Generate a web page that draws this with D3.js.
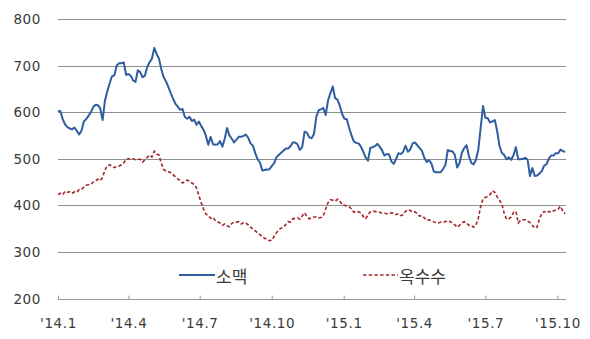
<!DOCTYPE html>
<html>
<head>
<meta charset="utf-8">
<script src="https://cdn.jsdelivr.net/npm/d3@7"></script>
<style>
  html, body { margin: 0; padding: 0; background: #fff; }
  svg { display: block; }
  .num { font-family: "DejaVu Sans", "Noto Sans", sans-serif; font-size: 13.5px; letter-spacing: 0.6px; fill: #3a3a3a; }
  .leg { font-family: "Noto Sans CJK KR", sans-serif; font-size: 17px; fill: #3a3a3a; }
</style>
</head>
<body>
<svg id="chart" width="590" height="339"></svg>
<script>
// Prices sampled every 3 calendar days starting 2014-01-01
const startDate = "2014-01-01";
const stepDays = 3;

const wheat = [
  603,602,585,574,568,565,563,567,560,552,560,580,585,592,600,611,616,615,608,583,
  625,645,662,677,679,700,705,705,707,680,682,678,668,665,690,686,675,678,697,707,
  715,738,725,715,692,675,666,654,641,629,618,612,605,607,590,586,590,581,584,573,
  580,570,562,549,530,547,531,530,531,538,526,543,566,550,543,535,541,547,547,549,
  552,545,533,528,512,499,492,475,476,477,477,484,490,503,508,513,517,522,522,527,
  535,535,531,519,525,558,556,546,544,553,590,604,606,609,594,625,641,655,630,627,
  614,596,586,585,566,550,537,534,533,526,515,503,496,523,525,527,532,526,518,507,
  510,509,494,489,500,512,510,515,528,515,520,533,535,529,523,517,502,493,497,490,
  473,471,471,471,478,487,519,516,516,508,481,491,513,523,529,506,491,488,498,520,
  567,613,588,587,578,580,583,560,528,513,508,499,503,498,508,525,499,499,500,502,
  498,463,480,463,464,468,473,485,488,500,507,507,512,512,520,516,515
];

const corn = [
  423,426,423,430,428,429,426,429,428,434,434,439,443,444,445,450,453,456,453,460,
  476,485,487,484,481,483,484,487,491,499,500,500,500,498,499,499,493,498,503,508,
  504,516,510,508,490,477,473,472,470,466,461,457,453,448,451,454,452,448,445,437,
  421,405,392,381,378,372,374,367,364,362,357,360,356,354,361,364,364,365,360,363,
  362,358,353,349,345,341,337,333,329,328,324,325,333,341,347,351,353,359,365,364,
  371,372,373,370,377,384,376,371,373,375,375,373,374,378,392,406,412,411,409,413,
  410,401,400,398,397,392,385,387,386,384,376,371,380,386,387,387,385,385,383,383,
  382,382,384,383,380,382,378,380,387,391,389,386,386,382,377,378,373,368,369,366,
  365,362,362,364,364,365,367,365,362,358,353,357,362,365,362,357,357,353,358,372,
  398,414,417,419,423,431,428,418,411,403,383,370,371,375,385,387,362,368,369,369,
  366,363,357,351,353,370,382,387,384,387,385,388,390,392,398,387,382
];

const seriesNames = ["소맥", "옥수수"];
const yTicks = [200, 300, 400, 500, 600, 700, 800];
const xTickDates = ["2014-01-01","2014-04-01","2014-07-01","2014-10-01",
                    "2015-01-01","2015-04-01","2015-07-01","2015-10-01"];
const xTickLabels = ["'14.1","'14.4","'14.7","'14.10","'15.1","'15.4","'15.7","'15.10"];

const parse = d3.utcParse("%Y-%m-%d");
const t0 = parse(startDate);
const dates = wheat.map((_, i) => d3.utcDay.offset(t0, i * stepDays));

const svg = d3.select("#chart");

const x = d3.scaleUtc()
  .domain([parse("2014-01-01"), parse("2015-10-12")])
  .range([58, 566]);
const y = d3.scaleLinear().domain([200, 800]).range([298.5, 19]);

// horizontal gridlines
svg.append("g")
  .selectAll("line")
  .data(yTicks.filter(v => v > 200))
  .join("line")
  .attr("x1", 58).attr("x2", 566)
  .attr("y1", d => Math.round(y(d)) + 0.5).attr("y2", d => Math.round(y(d)) + 0.5)
  .attr("stroke", "#8f8f8f").attr("stroke-width", 1);

// y labels
svg.append("g")
  .selectAll("text")
  .data(yTicks)
  .join("text")
  .attr("class", "num")
  .attr("x", 41).attr("y", d => y(d))
  .attr("text-anchor", "end")
  .attr("dominant-baseline", "central")
  .text(d => d);

// x axis with inward ticks
const xAxis = d3.axisBottom(x)
  .tickValues(xTickDates.map(parse))
  .tickFormat((d, i) => xTickLabels[i])
  .tickSizeInner(-4)
  .tickSizeOuter(0)
  .tickPadding(0);

const gx = svg.append("g")
  .attr("transform", `translate(0,${Math.round(y(200)) + 0.5})`)
  .call(xAxis);
gx.select(".domain").attr("stroke", "#9a9a9a").attr("d", `M58,0H566`);
gx.selectAll(".tick line").attr("stroke", "#9a9a9a");
gx.selectAll(".tick text")
  .attr("class", "num")
  .attr("y", 23)
  .attr("dy", null)
  .attr("dominant-baseline", "central")
  .style("font-family", null).style("font-size", null);
gx.attr("font-family", null).attr("font-size", null);

const line = d3.line()
  .x((d, i) => x(dates[i]))
  .y(d => y(d));

// corn (dashed)
svg.append("path")
  .datum(corn)
  .attr("d", line)
  .attr("fill", "none")
  .attr("stroke", "#a3272b")
  .attr("stroke-width", 1.6)
  .attr("stroke-dasharray", "3.5,2.2");

// wheat (solid)
svg.append("path")
  .datum(wheat)
  .attr("d", line)
  .attr("fill", "none")
  .attr("stroke", "#2f5ea0")
  .attr("stroke-width", 2)
  .attr("stroke-linejoin", "round");

// legend
const legend = [
  { name: seriesNames[0], x1: 179, x2: 215, color: "#2f5ea0", dash: null, w: 2 },
  { name: seriesNames[1], x1: 363, x2: 398, color: "#a3272b", dash: "3.5,2.2", w: 1.6 }
];
const lg = svg.append("g");
legend.forEach(l => {
  lg.append("line")
    .attr("x1", l.x1).attr("x2", l.x2)
    .attr("y1", 275).attr("y2", 275)
    .attr("stroke", l.color).attr("stroke-width", l.w)
    .attr("stroke-dasharray", l.dash);
  lg.append("text")
    .attr("class", "leg")
    .attr("x", l.x2 + 1).attr("y", 275)
    .attr("dominant-baseline", "central")
    .text(l.name);
});
</script>
</body>
</html>
